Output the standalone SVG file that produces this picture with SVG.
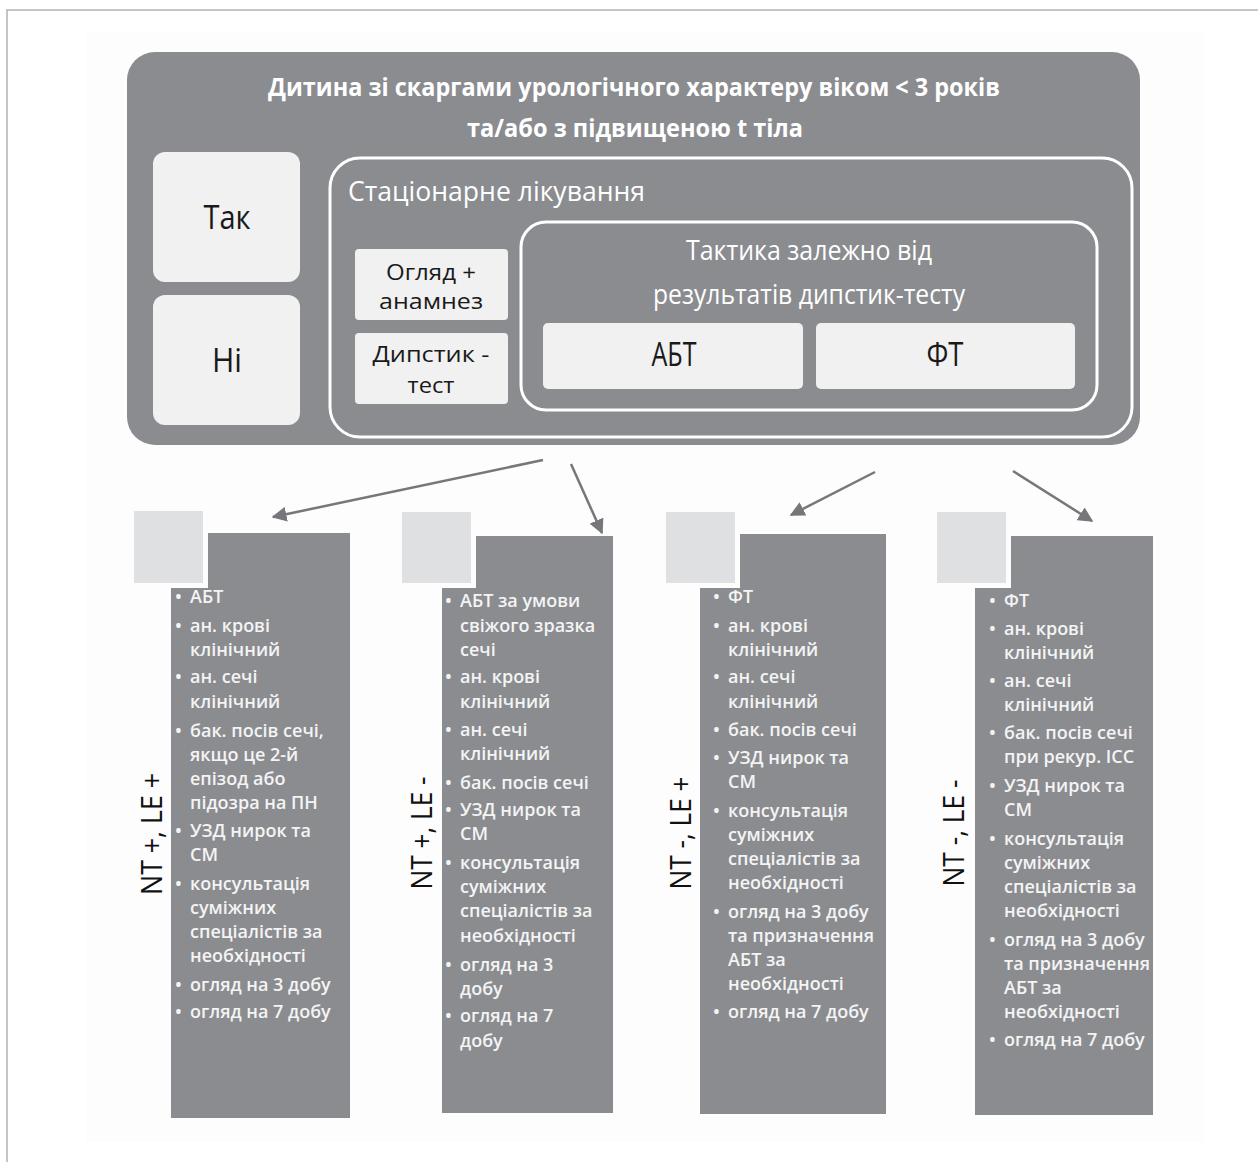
<svg xmlns="http://www.w3.org/2000/svg" width="1258" height="1162" viewBox="0 0 1258 1162">
<defs>
<style>
.dark{fill:#8b8c90}
.light{fill:#f1f1f1}
.sq{fill:#dfe0e2}
.outline{fill:none;stroke:#ffffff;stroke-width:3}
.hd{font-family:"Open Sans","Liberation Sans",sans-serif;font-weight:700;font-size:25px;fill:#ffffff;text-anchor:middle}
.wt{font-family:"Open Sans","Liberation Sans",sans-serif;font-size:27px;fill:#ffffff}
.bk{font-family:"Open Sans","Liberation Sans",sans-serif;font-size:22px;fill:#1a1a1a;text-anchor:middle}
.big{font-size:33px}
.lbl{font-family:"Open Sans","Liberation Sans",sans-serif;font-size:30px;fill:#111111;text-anchor:middle}
.li{font-family:"Open Sans","Liberation Sans",sans-serif;font-weight:600;font-size:18px;fill:#f4f4f4}
.conn{stroke:#76777a;stroke-width:2.5;fill:none}
</style>
<marker id="ah" viewBox="0 0 10 10" refX="9" refY="5" markerWidth="6" markerHeight="6" orient="auto" markerUnits="strokeWidth">
<path d="M0,0 L10,5 L0,10 Z" fill="#76777a"/>
</marker>
</defs>
<rect x="0" y="0" width="1258" height="1162" fill="#ffffff"/>
<rect x="7" y="10" width="1260" height="1170" fill="#ffffff" stroke="#b3b3b3" stroke-width="1.5"/>
<rect x="86" y="32" width="1118" height="1110" fill="#fdfdfd"/>

<g id="main">
<rect class="dark" x="127" y="52" width="1013" height="393" rx="28"/>
<text class="hd" x="634" y="96" textLength="732" lengthAdjust="spacingAndGlyphs">Дитина зі скаргами урологічного характеру віком &lt; 3 років</text>
<text class="hd" x="635" y="137" textLength="336" lengthAdjust="spacingAndGlyphs">та/або з підвищеною t тіла</text>
</g>

<g id="tak">
<rect class="light" x="153" y="152" width="147" height="130" rx="12"/>
<text class="bk big" x="227" y="229" textLength="47" lengthAdjust="spacingAndGlyphs">Так</text>
</g>
<g id="ni">
<rect class="light" x="153" y="295" width="147" height="130" rx="12"/>
<text class="bk big" x="227" y="372" textLength="30" lengthAdjust="spacingAndGlyphs">Ні</text>
</g>

<g id="stationary">
<rect class="outline" x="330" y="158" width="802" height="279" rx="30"/>
<text class="wt" x="348" y="201" textLength="297" lengthAdjust="spacingAndGlyphs">Стаціонарне лікування</text>
</g>

<g id="ohliad">
<rect class="light" x="355" y="249" width="153" height="71" rx="4"/>
<text class="bk" x="431" y="280" textLength="90" lengthAdjust="spacingAndGlyphs">Огляд +</text>
<text class="bk" x="431" y="309" textLength="104" lengthAdjust="spacingAndGlyphs">анамнез</text>
</g>
<g id="dipstick">
<rect class="light" x="355" y="333" width="153" height="71" rx="4"/>
<text class="bk" x="431" y="362" textLength="117" lengthAdjust="spacingAndGlyphs">Дипстик -</text>
<text class="bk" x="431" y="393" textLength="47" lengthAdjust="spacingAndGlyphs">тест</text>
</g>

<g id="taktyka">
<rect class="outline" x="521" y="222" width="576" height="188" rx="25"/>
<text class="wt" x="809" y="260" text-anchor="middle" textLength="246" lengthAdjust="spacingAndGlyphs">Тактика залежно від</text>
<text class="wt" x="809" y="304" text-anchor="middle" textLength="312" lengthAdjust="spacingAndGlyphs">результатів дипстик-тесту</text>
</g>
<g id="abt">
<rect class="light" x="543" y="323" width="260" height="66" rx="5"/>
<text class="bk big" x="674" y="366" textLength="45" lengthAdjust="spacingAndGlyphs">АБТ</text>
</g>
<g id="ft">
<rect class="light" x="816" y="323" width="259" height="66" rx="5"/>
<text class="bk big" x="945" y="366" textLength="37" lengthAdjust="spacingAndGlyphs">ФТ</text>
</g>

<g id="connectors">
<line class="conn" x1="543" y1="460" x2="273" y2="517" marker-end="url(#ah)"/>
<line class="conn" x1="571" y1="464" x2="602" y2="533" marker-end="url(#ah)"/>
<line class="conn" x1="875" y1="472" x2="791" y2="515" marker-end="url(#ah)"/>
<line class="conn" x1="1013" y1="471" x2="1092" y2="521" marker-end="url(#ah)"/>
</g>

<g id="col1">
<path class="dark" d="M208,533 H350 V1118 H171 V588 H208 Z"/>
<rect class="sq" x="134" y="511" width="69" height="72"/>
<text class="lbl" transform="translate(152,834) rotate(-90)" y="10" textLength="122" lengthAdjust="spacingAndGlyphs">NT +, LE +</text>
<g class="li">
<text x="175" y="603">•<tspan x="190">АБТ</tspan></text>
<text x="175" y="632">•<tspan x="190">ан. крові</tspan></text>
<text x="190" y="656">клінічний</text>
<text x="175" y="683">•<tspan x="190">ан. сечі</tspan></text>
<text x="190" y="708">клінічний</text>
<text x="175" y="737">•<tspan x="190">бак. посів сечі,</tspan></text>
<text x="190" y="761">якщо це 2-й</text>
<text x="190" y="785">епізод або</text>
<text x="190" y="809">підозра на ПН</text>
<text x="175" y="837">•<tspan x="190">УЗД нирок та</tspan></text>
<text x="190" y="861">СМ</text>
<text x="175" y="890">•<tspan x="190">консультація</tspan></text>
<text x="190" y="914">суміжних</text>
<text x="190" y="938">спеціалістів за</text>
<text x="190" y="962">необхідності</text>
<text x="175" y="991">•<tspan x="190">огляд на 3 добу</tspan></text>
<text x="175" y="1018">•<tspan x="190">огляд на 7 добу</tspan></text>
</g>
</g>

<g id="col2">
<path class="dark" d="M476,536 H613 V1113 H442 V588 H476 Z"/>
<rect class="sq" x="402" y="512" width="69" height="71"/>
<text class="lbl" transform="translate(422,833) rotate(-90)" y="10" textLength="113" lengthAdjust="spacingAndGlyphs">NT +, LE -</text>
<g class="li">
<text x="445" y="607">•<tspan x="460">АБТ за умови</tspan></text>
<text x="460" y="632">свіжого зразка</text>
<text x="460" y="656">сечі</text>
<text x="445" y="683">•<tspan x="460">ан. крові</tspan></text>
<text x="460" y="708">клінічний</text>
<text x="445" y="736">•<tspan x="460">ан. сечі</tspan></text>
<text x="460" y="760">клінічний</text>
<text x="445" y="789">•<tspan x="460">бак. посів сечі</tspan></text>
<text x="445" y="816">•<tspan x="460">УЗД нирок та</tspan></text>
<text x="460" y="840">СМ</text>
<text x="445" y="869">•<tspan x="460">консультація</tspan></text>
<text x="460" y="893">суміжних</text>
<text x="460" y="917">спеціалістів за</text>
<text x="460" y="942">необхідності</text>
<text x="445" y="971">•<tspan x="460">огляд на 3</tspan></text>
<text x="460" y="995">добу</text>
<text x="445" y="1022">•<tspan x="460">огляд на 7</tspan></text>
<text x="460" y="1047">добу</text>
</g>
</g>

<g id="col3">
<path class="dark" d="M740,534 H886 V1114 H700 V588 H740 Z"/>
<rect class="sq" x="666" y="512" width="69" height="71"/>
<text class="lbl" transform="translate(681,833) rotate(-90)" y="10" textLength="113" lengthAdjust="spacingAndGlyphs">NT -, LE +</text>
<g class="li">
<text x="713" y="603">•<tspan x="728">ФТ</tspan></text>
<text x="713" y="632">•<tspan x="728">ан. крові</tspan></text>
<text x="728" y="656">клінічний</text>
<text x="713" y="683">•<tspan x="728">ан. сечі</tspan></text>
<text x="728" y="708">клінічний</text>
<text x="713" y="736">•<tspan x="728">бак. посів сечі</tspan></text>
<text x="713" y="764">•<tspan x="728">УЗД нирок та</tspan></text>
<text x="728" y="788">СМ</text>
<text x="713" y="817">•<tspan x="728">консультація</tspan></text>
<text x="728" y="841">суміжних</text>
<text x="728" y="865">спеціалістів за</text>
<text x="728" y="889">необхідності</text>
<text x="713" y="918">•<tspan x="728">огляд на 3 добу</tspan></text>
<text x="728" y="942">та призначення</text>
<text x="728" y="966">АБТ за</text>
<text x="728" y="990">необхідності</text>
<text x="713" y="1018">•<tspan x="728">огляд на 7 добу</tspan></text>
</g>
</g>

<g id="col4">
<path class="dark" d="M1011,536 H1153 V1115 H975 V588 H1011 Z"/>
<rect class="sq" x="937" y="512" width="69" height="71"/>
<text class="lbl" transform="translate(954,833) rotate(-90)" y="10" textLength="107" lengthAdjust="spacingAndGlyphs">NT -, LE -</text>
<g class="li">
<text x="989" y="607">•<tspan x="1004">ФТ</tspan></text>
<text x="989" y="635">•<tspan x="1004">ан. крові</tspan></text>
<text x="1004" y="659">клінічний</text>
<text x="989" y="687">•<tspan x="1004">ан. сечі</tspan></text>
<text x="1004" y="711">клінічний</text>
<text x="989" y="739">•<tspan x="1004">бак. посів сечі</tspan></text>
<text x="1004" y="763">при рекур. ІСС</text>
<text x="989" y="792">•<tspan x="1004">УЗД нирок та</tspan></text>
<text x="1004" y="816">СМ</text>
<text x="989" y="845">•<tspan x="1004">консультація</tspan></text>
<text x="1004" y="869">суміжних</text>
<text x="1004" y="893">спеціалістів за</text>
<text x="1004" y="917">необхідності</text>
<text x="989" y="946">•<tspan x="1004">огляд на 3 добу</tspan></text>
<text x="1004" y="970">та призначення</text>
<text x="1004" y="994">АБТ за</text>
<text x="1004" y="1018">необхідності</text>
<text x="989" y="1046">•<tspan x="1004">огляд на 7 добу</tspan></text>
</g>
</g>
</svg>
